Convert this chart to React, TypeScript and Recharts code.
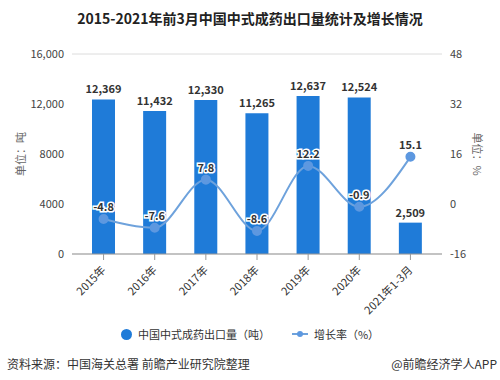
import {
  ComposedChart,
  Bar,
  Line,
  XAxis,
  YAxis,
  CartesianGrid,
  LabelList,
} from "recharts";

const years = ["2015年", "2016年", "2017年", "2018年", "2019年", "2020年", "2021年1-3月"];
const exportVolume = [12369, 11432, 12330, 11265, 12637, 12524, 2509];
const growthRate = [-4.8, -7.6, 7.8, -8.6, 12.2, -0.9, 15.1];
const leftTicks = [0, 4000, 8000, 12000, 16000];
const rightTicks = [-16, 0, 16, 32, 48];

const data = years.map((year, i) => ({
  year,
  volume: exportVolume[i],
  rate: growthRate[i],
}));

const FONT = '"Noto Sans CJK SC", "Noto Sans", sans-serif';
const BAR_COLOR = "#1f7bd8";
const LINE_COLOR = "#6ea2dc";

const fmtLeft = (v: number) => (v >= 10000 ? v.toLocaleString("en-US") : String(v));

function XTick(props: any) {
  const { x, y, payload } = props;
  return (
    <g transform={`translate(${x},${y + 6})`}>
      <text
        transform="rotate(-45)"
        textAnchor="end"
        dy={4}
        fontSize={11}
        fill="#333"
        fontFamily={FONT}
      >
        {payload.value}
      </text>
    </g>
  );
}

function RateLabel(props: any) {
  const { x, y, value } = props;
  return (
    <text
      x={x}
      y={y - 8}
      textAnchor="middle"
      fontSize={11}
      fontWeight="bold"
      fill="#333"
      stroke="#fff"
      strokeWidth={3}
      paintOrder="stroke"
      fontFamily={FONT}
    >
      {value}
    </text>
  );
}

function AxisTitle({ x, y, angle, text }: { x: number; y: number; angle: number; text: string }) {
  return (
    <text
      x={x}
      y={y}
      transform={`rotate(${angle},${x},${y})`}
      textAnchor="middle"
      dominantBaseline="central"
      fontSize={11}
      fill="#666"
      fontFamily={FONT}
    >
      {text}
    </text>
  );
}

export default function App() {
  return (
    <div
      style={{
        position: "absolute",
        left: 0,
        top: 0,
        width: 500,
        height: 380,
        background: "#fff",
        fontFamily: FONT,
      }}
    >
      <div
        style={{
          position: "absolute",
          top: 8,
          width: 500,
          textAlign: "center",
          fontSize: 14,
          fontWeight: "bold",
          color: "#222",
        }}
      >
        2015-2021年前3月中国中式成药出口量统计及增长情况
      </div>
      <ComposedChart
        width={500}
        height={380}
        data={data}
        margin={{ top: 54, right: 18, bottom: 56, left: 20 }}
        style={{ position: "absolute", left: 0, top: 0 }}
      >
        <CartesianGrid vertical={false} stroke="#dcdcdc" />
        <XAxis
          dataKey="year"
          height={70}
          interval={0}
          padding={{ left: 6, right: 6 }}
          tick={<XTick />}
          axisLine={{ stroke: "#999" }}
          tickLine={{ stroke: "#999" }}
        />
        <YAxis
          yAxisId="left"
          width={52}
          domain={[0, 16000]}
          ticks={leftTicks}
          tickFormatter={fmtLeft}
          axisLine={false}
          tickLine={false}
          tick={{ fontSize: 11, fill: "#444", fontFamily: FONT }}
        />
        <YAxis
          yAxisId="right"
          orientation="right"
          width={40}
          domain={[-16, 48]}
          ticks={rightTicks}
          axisLine={false}
          tickLine={false}
          tick={{ fontSize: 11, fill: "#444", fontFamily: FONT }}
        />
        <Bar
          yAxisId="left"
          dataKey="volume"
          fill={BAR_COLOR}
          barSize={23}
          isAnimationActive={false}
        >
          <LabelList
            dataKey="volume"
            position="top"
            offset={6}
            formatter={(v: any) => Number(v).toLocaleString("en-US")}
            style={{ fontSize: 11, fontWeight: "bold", fill: "#333", fontFamily: FONT }}
          />
        </Bar>
        <Line
          yAxisId="right"
          dataKey="rate"
          type="monotone"
          stroke={LINE_COLOR}
          strokeWidth={2}
          dot={{ r: 4, fill: "#5d98e0", stroke: "#5d98e0" }}
          isAnimationActive={false}
        >
          <LabelList dataKey="rate" content={<RateLabel />} />
        </Line>
      </ComposedChart>
      <svg
        width={500}
        height={380}
        style={{ position: "absolute", left: 0, top: 0, pointerEvents: "none" }}
      >
        <AxisTitle x={20} y={154} angle={-90} text="单位：吨" />
        <AxisTitle x={478} y={154} angle={90} text="单位：%" />
      </svg>
      <div
        style={{
          position: "absolute",
          top: 326,
          left: 0,
          width: 500,
          display: "flex",
          justifyContent: "center",
          alignItems: "center",
          fontSize: 11,
          color: "#333",
        }}
      >
        <span
          style={{
            width: 11,
            height: 11,
            borderRadius: "50%",
            background: BAR_COLOR,
            display: "inline-block",
            marginRight: 6,
          }}
        />
        <span style={{ marginRight: 22 }}>中国中式成药出口量（吨）</span>
        <svg width={16} height={10} style={{ marginRight: 6 }}>
          <line x1={0} y1={5} x2={16} y2={5} stroke={LINE_COLOR} strokeWidth={2} />
          <circle cx={8} cy={5} r={3} fill="#5d98e0" />
        </svg>
        <span>增长率（%）</span>
      </div>
      <div
        style={{
          position: "absolute",
          top: 355,
          left: 7,
          fontSize: 12,
          color: "#333",
        }}
      >
        资料来源：中国海关总署 前瞻产业研究院整理
      </div>
      <div
        style={{
          position: "absolute",
          top: 355,
          right: 3,
          fontSize: 12,
          color: "#333",
        }}
      >
        @前瞻经济学人APP
      </div>
    </div>
  );
}
